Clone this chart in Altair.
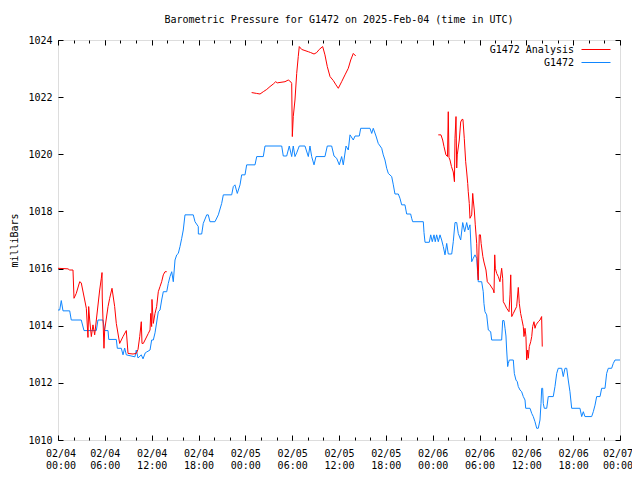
import json
import altair as alt
import pandas as pd

FONT = "DejaVu Sans Mono"
TITLE = "Barometric Pressure for G1472 on 2025-Feb-04 (time in UTC)"
Y_TITLE = "milliBars"
SERIES = ["G1472 Analysis", "G1472"]
COLORS = ["#ff0000", "#0f86ff"]

# G1472 observations: hours since 2025-02-04 00:00 UTC, pressure (mbar)
obs_hours = [0.0, 0.22, 0.42, 0.64, 1.50, 1.70, 2.98, 3.33, 4.91, 5.12, 5.76, 5.98, 6.41, 6.50, 7.47, 7.60,
             8.11, 8.33, 8.54, 8.75, 9.86, 10.03, 10.25, 10.67, 10.89, 11.18, 11.36, 11.79, 12.00, 12.21,
             12.43, 12.85, 13.07, 13.28, 13.49, 13.93, 14.13, 14.35, 14.57, 14.77, 14.99, 15.21, 15.41,
             15.63, 15.85, 16.05, 16.27, 17.33, 17.55, 17.97, 17.98, 18.41, 18.61, 19.05, 19.25, 19.47,
             20.11, 20.54, 20.97, 21.18, 22.25, 22.46, 22.67, 22.97, 23.32, 23.53, 23.96, 24.17, 25.24,
             25.46, 26.30, 26.52, 28.66, 28.86, 29.30, 29.63, 29.94, 30.14, 30.36, 30.58, 30.91, 31.64,
             32.07, 32.28, 32.50, 32.80, 33.05, 34.20, 34.50, 35.06, 35.36, 35.70, 36.04, 36.34, 36.55,
             36.90, 37.19, 37.41, 37.83, 38.05, 38.60, 38.78, 39.97, 40.19, 40.39, 40.74, 41.03, 41.47,
             41.67, 41.89, 42.11, 42.32, 42.75, 42.96, 43.17, 43.60, 43.81, 44.03, 44.45, 44.67, 45.18,
             45.31, 45.44, 46.80, 46.89, 47.02, 47.57, 47.75, 47.95, 48.17, 48.33, 48.51, 48.72, 48.94,
             49.15, 49.36, 49.58, 49.80, 50.00, 50.44, 50.64, 50.86, 51.08, 51.28, 51.59, 51.85, 52.10,
             52.36, 52.56, 52.78, 53.00, 53.20, 53.42, 53.64, 53.84, 54.28, 54.48, 54.57, 54.70, 54.92,
             55.13, 55.43, 55.56, 56.84, 56.97, 57.14, 57.27, 57.39, 57.48, 57.61, 57.69, 57.82, 58.33,
             58.46, 58.67, 58.84, 58.97, 59.19, 59.40, 59.61, 59.83, 59.92, 60.47, 60.69, 60.89, 61.11,
             61.33, 61.53, 61.75, 61.88, 61.97, 62.09, 62.17, 62.30, 62.61, 62.81, 63.45, 63.67, 63.89,
             64.09, 64.53, 64.73, 64.95, 65.17, 65.37, 65.59, 65.81, 66.87, 67.09, 67.30, 67.51, 68.37,
             68.58, 68.80, 69.01, 69.44, 69.65, 70.08, 70.29, 70.50, 70.93, 71.14, 71.36, 72.0]
obs_mbar = [1014.55, 1014.55, 1014.88, 1014.52, 1014.52, 1014.20, 1014.20, 1013.83, 1013.83, 1014.20,
            1014.20, 1013.83, 1013.83, 1013.52, 1013.52, 1013.21, 1013.21, 1012.98, 1013.22, 1012.98,
            1012.91, 1013.15, 1012.87, 1012.98, 1012.84, 1013.05, 1013.08, 1013.15, 1013.50, 1013.50,
            1013.75, 1014.49, 1014.55, 1014.90, 1015.19, 1015.19, 1015.48, 1015.72, 1015.89, 1015.54,
            1016.30, 1016.48, 1016.53, 1016.77, 1017.06, 1017.35, 1017.88, 1017.88, 1017.64, 1017.47,
            1017.21, 1017.21, 1017.58, 1017.88, 1017.88, 1017.64, 1017.64, 1017.88, 1018.28, 1018.58,
            1018.58, 1018.87, 1018.93, 1018.63, 1018.93, 1019.28, 1019.28, 1019.63, 1019.63, 1019.92,
            1019.92, 1020.29, 1020.29, 1019.94, 1019.94, 1020.29, 1019.92, 1020.29, 1019.92, 1020.05,
            1020.29, 1020.29, 1019.92, 1020.29, 1019.92, 1019.63, 1019.92, 1019.92, 1020.29, 1020.29,
            1019.94, 1019.86, 1019.63, 1019.92, 1019.63, 1020.29, 1020.15, 1020.68, 1020.50, 1020.64,
            1020.64, 1020.91, 1020.91, 1020.73, 1020.91, 1020.64, 1020.38, 1020.21, 1019.98, 1019.80,
            1019.51, 1019.33, 1019.22, 1018.93, 1018.61, 1018.61, 1018.46, 1018.23, 1018.23, 1017.91,
            1017.91, 1017.76, 1017.64, 1017.64, 1017.26, 1016.92, 1016.92, 1017.18, 1016.94, 1017.18,
            1016.94, 1017.18, 1016.94, 1017.18, 1017.00, 1016.77, 1016.48, 1016.88, 1016.51, 1016.51,
            1016.94, 1017.61, 1017.61, 1017.23, 1017.00, 1017.61, 1017.29, 1017.61, 1017.35, 1017.53,
            1016.24, 1016.36, 1016.48, 1016.36, 1015.54, 1015.54, 1015.19, 1014.78, 1014.49, 1014.38,
            1013.85, 1013.79, 1013.50, 1013.50, 1014.18, 1014.18, 1013.91, 1013.64, 1013.15, 1012.57,
            1012.68, 1012.80, 1012.80, 1012.33, 1012.10, 1012.04, 1011.87, 1011.75, 1011.69, 1011.52,
            1011.40, 1011.11, 1011.11, 1010.93, 1010.82, 1010.64, 1010.41, 1010.41, 1010.70, 1011.28,
            1011.81, 1011.81, 1011.28, 1011.11, 1011.11, 1011.52, 1011.52, 1011.87, 1012.33, 1012.51,
            1012.51, 1012.22, 1012.51, 1012.51, 1012.10, 1011.69, 1011.11, 1011.11, 1010.82, 1010.99,
            1010.82, 1010.82, 1010.99, 1011.22, 1011.52, 1011.52, 1011.81, 1011.81, 1012.33, 1012.51,
            1012.51, 1012.68, 1012.80, 1012.80]

# G1472 Analysis, three separate runs
ana1_hours = [0.0, 1.28, 1.50, 1.92, 2.05, 2.34, 2.78, 2.98, 3.42, 3.63, 3.84, 3.93, 4.06, 4.27, 4.48,
              4.70, 5.34, 5.55, 5.64, 5.67, 5.89, 5.98, 6.41, 6.62, 6.92, 7.26, 7.47, 7.90, 8.33, 8.75,
              8.97, 9.61, 10.03, 10.25, 10.47, 10.67, 10.76, 10.93, 11.15, 11.57, 11.79, 11.88, 12.00,
              12.04, 12.21, 12.43, 12.64, 12.85, 13.07, 13.28, 13.49, 13.71, 13.93]
ana1_mbar = [1016.01, 1015.99, 1015.95, 1015.95, 1014.96, 1015.13, 1015.54, 1015.50, 1014.90, 1014.61,
             1013.59, 1014.67, 1014.20, 1013.62, 1014.03, 1013.68, 1015.25, 1015.66, 1015.86, 1014.97,
             1013.21, 1013.85, 1014.67, 1014.96, 1015.31, 1014.67, 1014.08, 1013.38, 1013.62, 1013.83,
             1013.03, 1013.01, 1013.03, 1013.17, 1013.62, 1014.14, 1013.38, 1013.38, 1013.50, 1013.73,
             1013.85, 1014.43, 1013.97, 1014.92, 1014.08, 1014.43, 1014.67, 1015.19, 1015.37, 1015.54,
             1015.78, 1015.89, 1015.89]
ana2_hours = [24.81, 25.45, 25.88, 26.30, 26.74, 27.16, 27.58, 27.89, 28.09, 29.08, 29.50, 29.81, 29.94,
              30.02, 30.14, 30.36, 30.58, 30.78, 30.91, 31.22, 31.64, 32.07, 32.37, 32.80, 33.14, 33.47,
              33.91, 34.20, 34.50, 34.85, 35.27, 35.61, 35.91, 36.34, 36.77, 37.19, 37.50, 37.83, 38.14]
ana2_mbar = [1022.16, 1022.13, 1022.11, 1022.19, 1022.27, 1022.37, 1022.46, 1022.54, 1022.50, 1022.54,
             1022.60, 1022.54, 1022.48, 1020.62, 1021.32, 1021.90, 1022.83, 1023.42, 1023.77, 1023.67,
             1023.63, 1023.59, 1023.56, 1023.51, 1023.56, 1023.67, 1023.77, 1023.48, 1023.07, 1022.72,
             1022.58, 1022.43, 1022.31, 1022.54, 1022.78, 1023.01, 1023.30, 1023.53, 1023.44]
ana3_hours = [48.72, 49.06, 49.28, 49.45, 49.70, 49.90, 50.00, 50.09, 50.22, 50.41, 50.64, 50.79, 50.86,
              50.99, 51.08, 51.15, 51.41, 51.59, 51.75, 51.88, 52.05, 52.23, 52.36, 52.49, 52.56, 52.69,
              52.78, 53.00, 53.13, 53.20, 53.33, 53.46, 53.64, 53.76, 53.84, 53.97, 54.12, 54.21, 54.43,
              54.57, 54.83, 55.00, 55.35, 55.77, 55.86, 55.95, 56.03, 56.20, 56.41, 56.62, 56.84, 56.97,
              57.05, 57.27, 57.48, 57.78, 57.91, 58.00, 58.13, 58.33, 58.76, 58.97, 59.10, 59.27, 59.40,
              59.61, 59.70, 59.83, 59.95, 60.04, 60.17, 60.25, 60.38, 60.56, 60.69, 60.81, 60.98, 61.11,
              61.24, 61.53, 61.75, 61.96, 62.04]
ana3_mbar = [1020.68, 1020.68, 1020.50, 1020.27, 1019.98, 1019.92, 1021.49, 1019.89, 1019.80, 1019.57,
             1019.38, 1019.04, 1020.56, 1021.32, 1019.52, 1019.98, 1020.50, 1021.13, 1021.22, 1021.22,
             1020.56, 1019.74, 1019.38, 1018.98, 1018.69, 1018.28, 1017.76, 1017.88, 1018.63, 1018.40,
             1018.05, 1017.53, 1016.88, 1015.89, 1015.60, 1017.18, 1017.18, 1016.88, 1016.42, 1016.23,
             1015.95, 1015.54, 1015.43, 1015.25, 1015.15, 1016.48, 1016.01, 1015.83, 1015.72, 1015.54,
             1016.01, 1015.66, 1014.84, 1014.73, 1014.61, 1014.49, 1015.08, 1015.78, 1014.32, 1014.43,
             1014.67, 1015.34, 1014.78, 1014.43, 1014.26, 1013.97, 1013.62, 1013.91, 1013.62, 1012.80,
             1013.15, 1012.86, 1013.27, 1013.44, 1013.62, 1013.97, 1014.14, 1013.91, 1014.03, 1014.14,
             1014.20, 1014.32, 1013.27]

tick_hours = [0, 6, 12, 18, 24, 30, 36, 42, 48, 54, 60, 66, 72]
tick_dates = ["02/04", "02/04", "02/04", "02/04", "02/05", "02/05", "02/05", "02/05",
              "02/06", "02/06", "02/06", "02/06", "02/07"]
tick_times = ["00:00", "06:00", "12:00", "18:00", "00:00", "06:00", "12:00", "18:00",
              "00:00", "06:00", "12:00", "18:00", "00:00"]
minor_hours = list(range(0, 73, 2))
y_ticks = [1010, 1012, 1014, 1016, 1018, 1020, 1022, 1024]

obs = pd.DataFrame({"hour": obs_hours, "mbar": obs_mbar})
ana = pd.concat([
    pd.DataFrame({"hour": h, "mbar": m, "seg": i})
    for i, (h, m) in enumerate([(ana1_hours, ana1_mbar), (ana2_hours, ana2_mbar), (ana3_hours, ana3_mbar)])
])

W, H = 562, 400
MAJ, MIN = 5, 3
xscale = alt.Scale(domain=[0, 72], nice=False, zero=False)
yscale = alt.Scale(domain=[1010, 1024], nice=False, zero=False)
label_arr = json.dumps([[d, t] for d, t in zip(tick_dates, tick_times)])


def tick_axis(orient, values, size):
    return alt.Axis(orient=orient, values=values, labels=False, domain=False, grid=False,
                    ticks=True, tickSize=size, offset=-size, tickColor="black", tickWidth=1,
                    title=None)


def X(axis):
    return alt.X("hour:Q", scale=xscale, axis=axis)


def Y(axis):
    return alt.Y("mbar:Q", scale=yscale, axis=axis)


x_label_axis = alt.Axis(orient="bottom", values=tick_hours, labelExpr=label_arr + "[round(datum.value/6)]",
                        ticks=False, tickSize=0, domain=False, grid=False, labelPadding=8,
                        labelLineHeight=12, labelFont=FONT, labelFontSize=10, labelColor="black",
                        labelFlush=True, labelFlushOffset=12.5, labelOverlap=False, title=None)
y_label_axis = alt.Axis(orient="left", values=y_ticks, format="d", ticks=False, tickSize=0,
                        domain=False, grid=False, labelPadding=6, labelFont=FONT, labelFontSize=10,
                        labelColor="black", labelOverlap=False, title=Y_TITLE, titleFont=FONT,
                        titleFontSize=10, titleFontWeight="normal", titleColor="black",
                        titleX=-44, titleY=H / 2, titleAngle=270, titleAlign="center",
                        titleBaseline="middle")

blue = alt.Chart(obs).mark_line(color=COLORS[1], strokeWidth=1).encode(
    x=X(x_label_axis), y=Y(y_label_axis))
red = alt.Chart(ana).mark_line(color=COLORS[0], strokeWidth=1).encode(
    x=X(tick_axis("bottom", tick_hours, MAJ)), y=Y(tick_axis("left", y_ticks, MAJ)),
    detail="seg:N")
ghost1 = alt.Chart(obs).mark_line(strokeOpacity=0).encode(
    x=X(tick_axis("bottom", minor_hours, MIN)), y=Y(tick_axis("right", y_ticks, MAJ)))
ghost2 = alt.Chart(obs).mark_line(strokeOpacity=0).encode(
    x=X(tick_axis("top", tick_hours, MAJ)), y=Y(None))
ghost3 = alt.Chart(obs).mark_line(strokeOpacity=0).encode(
    x=X(tick_axis("top", minor_hours, MIN)), y=Y(None))

title_layer = alt.Chart(pd.DataFrame({"t": [TITLE]})).mark_text(
    align="center", baseline="middle", font=FONT, fontSize=10, color="black"
).encode(x=alt.value(W / 2), y=alt.value(-20), text="t:N")

legend_layers = []
for i, (name, col) in enumerate(zip(SERIES, COLORS)):
    yy = 9.5 + 13 * i
    one = pd.DataFrame({"label": [name]})
    legend_layers.append(alt.Chart(one).mark_text(align="right", baseline="middle", font=FONT,
                                                  fontSize=10, color="black").encode(
        x=alt.value(516), y=alt.value(yy), text="label:N"))
    legend_layers.append(alt.Chart(one).mark_rule(color=col, strokeWidth=1).encode(
        x=alt.value(523.5), x2=alt.value(552.5), y=alt.value(yy)))

chart = alt.layer(ghost1, ghost2, ghost3, blue, red, title_layer, *legend_layers).resolve_axis(
    x="independent", y="independent"
).properties(
    width=W, height=H,
    autosize=alt.AutoSizeParams(type="none"),
    padding={"left": 50, "top": 32, "right": 12, "bottom": 40},
).configure_view(stroke="black", strokeWidth=1).configure(background="white")

chart.save("out.html", embed_options={"renderer": "svg", "actions": False})
